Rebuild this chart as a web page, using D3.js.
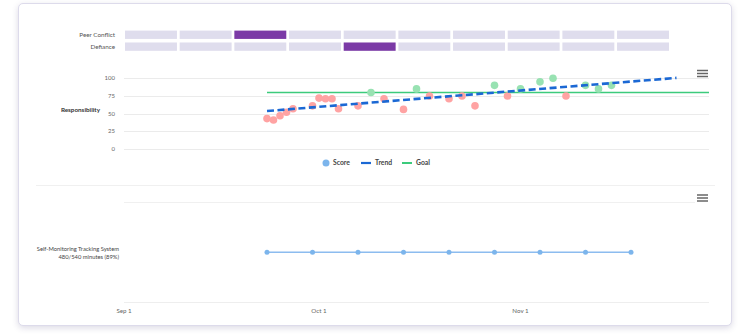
<!DOCTYPE html>
<html>
<head>
<meta charset="utf-8">
<script src="https://cdn.jsdelivr.net/npm/d3@7"></script>
<style>
  html, body { margin:0; padding:0; background:#fff; }
  body { width:750px; height:335px; position:relative; overflow:hidden; font-family:"Lato","Open Sans",sans-serif; }
  #card { position:absolute; left:18px; top:3px; width:712px; height:321px; border:1px solid #dddbeb; border-radius:5px; box-shadow:0 2px 6px rgba(60,50,110,0.18); background:#fff; }
  svg { position:absolute; left:0; top:0; }
</style>
</head>
<body>
<div id="card"></div>
<svg id="chart" width="750" height="335"></svg>
<script>
// ---------- DATA ----------
const heatRows = ["Peer Conflict", "Defiance"];
const heatColumns = [0,1,2,3,4,5,6,7,8,9];
const peerConflictFlags = [0,0,1,0,0,0,0,0,0,0];
const defianceFlags     = [0,0,0,0,1,0,0,0,0,0];

const scoreDates = ["2019-09-23","2019-09-24","2019-09-25","2019-09-26","2019-09-27","2019-09-30",
  "2019-10-01","2019-10-02","2019-10-03","2019-10-04","2019-10-07","2019-10-09","2019-10-11",
  "2019-10-14","2019-10-16","2019-10-18","2019-10-21","2019-10-23","2019-10-25","2019-10-28",
  "2019-10-30","2019-11-01","2019-11-04","2019-11-06","2019-11-08","2019-11-11","2019-11-13","2019-11-15"];
const scoreValues = [43,41,47,52,57,61,72,71,71,57,61,80,71,
  56,85,75,71,75,61,90,75,85,95,100,75,90,85,90];

const goalValue = 80;
const goalDates = ["2019-09-23","2019-11-30"];
const trendDates = ["2019-09-23","2019-11-25"];
const trendValues = [53.7, 100.6];

const yTicks = [0,25,50,75,100];
const xTickDates = ["2019-09-01","2019-10-01","2019-11-01"];
const xTickLabels = ["Sep 1","Oct 1","Nov 1"];
const xDomain = ["2019-09-01","2019-11-30"];

const trackingLabel = ["Self-Monitoring Tracking System", "480/540 minutes (89%)"];
const trackingDates = ["2019-09-23","2019-09-30","2019-10-07","2019-10-14","2019-10-21",
  "2019-10-28","2019-11-04","2019-11-11","2019-11-18"];

const legendItems = ["Score","Trend","Goal"];

// ---------- HELPERS ----------
const parse = s => { const [y,m,d] = s.split("-").map(Number); return new Date(Date.UTC(y, m-1, d)); };
const svg = d3.select("#chart");
const FONT = "Lato, 'Open Sans', sans-serif";

const x = d3.scaleUtc().domain(xDomain.map(parse)).range([124, 709]);

// ---------- HEATMAP ----------
const hx = d3.scaleBand().domain(heatColumns).range([125, 669]).paddingInner(0.05);
const hy = d3.scaleBand().domain(heatRows).range([30.6, 50.8]).paddingInner(0.3);
const heatData = [];
heatRows.forEach((r, ri) => {
  const flags = ri === 0 ? peerConflictFlags : defianceFlags;
  heatColumns.forEach((c, ci) => heatData.push({row: r, col: c, v: flags[ci]}));
});
svg.append("g").selectAll("rect").data(heatData).join("rect")
  .attr("x", d => hx(d.col)).attr("y", d => hy(d.row))
  .attr("width", hx.bandwidth()).attr("height", hy.bandwidth())
  .attr("fill", d => d.v ? "#7b3aa6" : "#dfdded");
svg.append("g").selectAll("text").data(heatRows).join("text")
  .attr("x", 115).attr("y", d => hy(d) + hy.bandwidth()/2)
  .attr("dy", "0.35em").attr("text-anchor", "end")
  .attr("font-size", 6.3).attr("fill", "#555").attr("font-family", FONT)
  .text(d => d);

// ---------- SCORE CHART ----------
const y = d3.scaleLinear().domain([0, 100]).range([149, 78.3]);
const gridG = svg.append("g");
gridG.selectAll("line").data(yTicks).join("line")
  .attr("x1", 124).attr("x2", 709)
  .attr("y1", d => Math.round(y(d)) + 0.5).attr("y2", d => Math.round(y(d)) + 0.5)
  .attr("stroke", "#ebebeb").attr("stroke-width", 1);
gridG.selectAll("text").data(yTicks).join("text")
  .attr("x", 115).attr("y", d => y(d)).attr("dy", "0.35em")
  .attr("text-anchor", "end").attr("font-size", 6).attr("fill", "#666")
  .attr("font-family", FONT).text(d => d);
svg.append("text").attr("x", 100).attr("y", y(55)).attr("dy","0.35em")
  .attr("text-anchor","end").attr("font-size", 6.3).attr("font-weight", 700)
  .attr("fill", "#333").attr("font-family", FONT).text("Responsibility");

// goal
svg.append("line")
  .attr("x1", x(parse(goalDates[0]))).attr("x2", x(parse(goalDates[1])))
  .attr("y1", y(goalValue)).attr("y2", y(goalValue))
  .attr("stroke", "#3ccb7c").attr("stroke-width", 1.6);

// points
const pts = scoreDates.map((d, i) => ({date: parse(d), v: scoreValues[i]}));
svg.append("g").selectAll("circle").data(pts).join("circle")
  .attr("cx", d => x(d.date)).attr("cy", d => y(d.v)).attr("r", 3.8)
  .attr("fill", d => d.v >= goalValue ? "#98e2b2" : "#ffa3a3");

// trend
const trendLine = d3.line().x(d => x(d.date)).y(d => y(d.v));
svg.append("path")
  .datum(trendDates.map((d, i) => ({date: parse(d), v: trendValues[i]})))
  .attr("d", trendLine).attr("fill", "none")
  .attr("stroke", "#1b68d4").attr("stroke-width", 2.6)
  .attr("stroke-dasharray", "7,3.5");

// legend
const lg = svg.append("g").attr("font-family", FONT).attr("font-size", 6.8)
  .attr("font-weight", 700).attr("fill", "#444");
const legX = [326, 361, 402];
lg.append("circle").attr("cx", legX[0]).attr("cy", 163).attr("r", 3.5).attr("fill", "#7cb5ec");
lg.append("line").attr("x1", legX[1]).attr("x2", legX[1] + 10).attr("y1", 163).attr("y2", 163)
  .attr("stroke", "#1b68d4").attr("stroke-width", 2.2);
lg.append("line").attr("x1", legX[2]).attr("x2", legX[2] + 10).attr("y1", 163).attr("y2", 163)
  .attr("stroke", "#3ccb7c").attr("stroke-width", 2);
const legTextX = [333, 375, 416];
lg.selectAll("text").data(legendItems).join("text")
  .attr("x", (d, i) => legTextX[i]).attr("y", 163).attr("dy", "0.35em").text(d => d);

// menu icons
function menu(cx, cy) {
  const g = svg.append("g");
  [-3, 0, 3].forEach(o => g.append("line")
    .attr("x1", cx - 5.5).attr("x2", cx + 5.5).attr("y1", cy + o).attr("y2", cy + o)
    .attr("stroke", "#666").attr("stroke-width", 1.5));
}
menu(702.5, 73.5);
menu(702.5, 198);

// separator
svg.append("line").attr("x1", 36).attr("x2", 715).attr("y1", 185.5).attr("y2", 185.5)
  .attr("stroke", "#f0f0f0").attr("stroke-width", 1.2);

// ---------- TRACKING CHART ----------
svg.append("line").attr("x1", 124).attr("x2", 695).attr("y1", 202.5).attr("y2", 202.5)
  .attr("stroke", "#f0f0f0").attr("stroke-width", 1.2);
const ty = d3.scalePoint().domain([trackingLabel[0]]).range([252.3, 252.3]);
const tl = svg.append("text").attr("text-anchor", "end").attr("font-family", FONT)
  .attr("font-size", 5.8).attr("fill", "#444");
tl.append("tspan").attr("x", 119).attr("y", 251).text(trackingLabel[0]);
tl.append("tspan").attr("x", 119).attr("y", 259).text(trackingLabel[1]);

const tPts = trackingDates.map(d => ({date: parse(d), row: trackingLabel[0]}));
svg.append("path").datum(tPts)
  .attr("d", d3.line().x(d => x(d.date)).y(d => ty(d.row)))
  .attr("fill", "none").attr("stroke", "#8cbcef").attr("stroke-width", 1.6);
svg.append("g").selectAll("circle").data(tPts).join("circle")
  .attr("cx", d => x(d.date)).attr("cy", d => ty(d.row)).attr("r", 2.5)
  .attr("fill", "#7cb5ec");

// x axis
svg.append("line").attr("x1", 124).attr("x2", 709).attr("y1", 302.5).attr("y2", 302.5)
  .attr("stroke", "#eeeeee").attr("stroke-width", 1);
svg.append("g").selectAll("text").data(xTickDates).join("text")
  .attr("x", d => x(parse(d))).attr("y", 313)
  .attr("text-anchor", "middle").attr("font-size", 6.2).attr("fill", "#666")
  .attr("font-family", FONT).text((d, i) => xTickLabels[i]);
</script>
</body>
</html>
